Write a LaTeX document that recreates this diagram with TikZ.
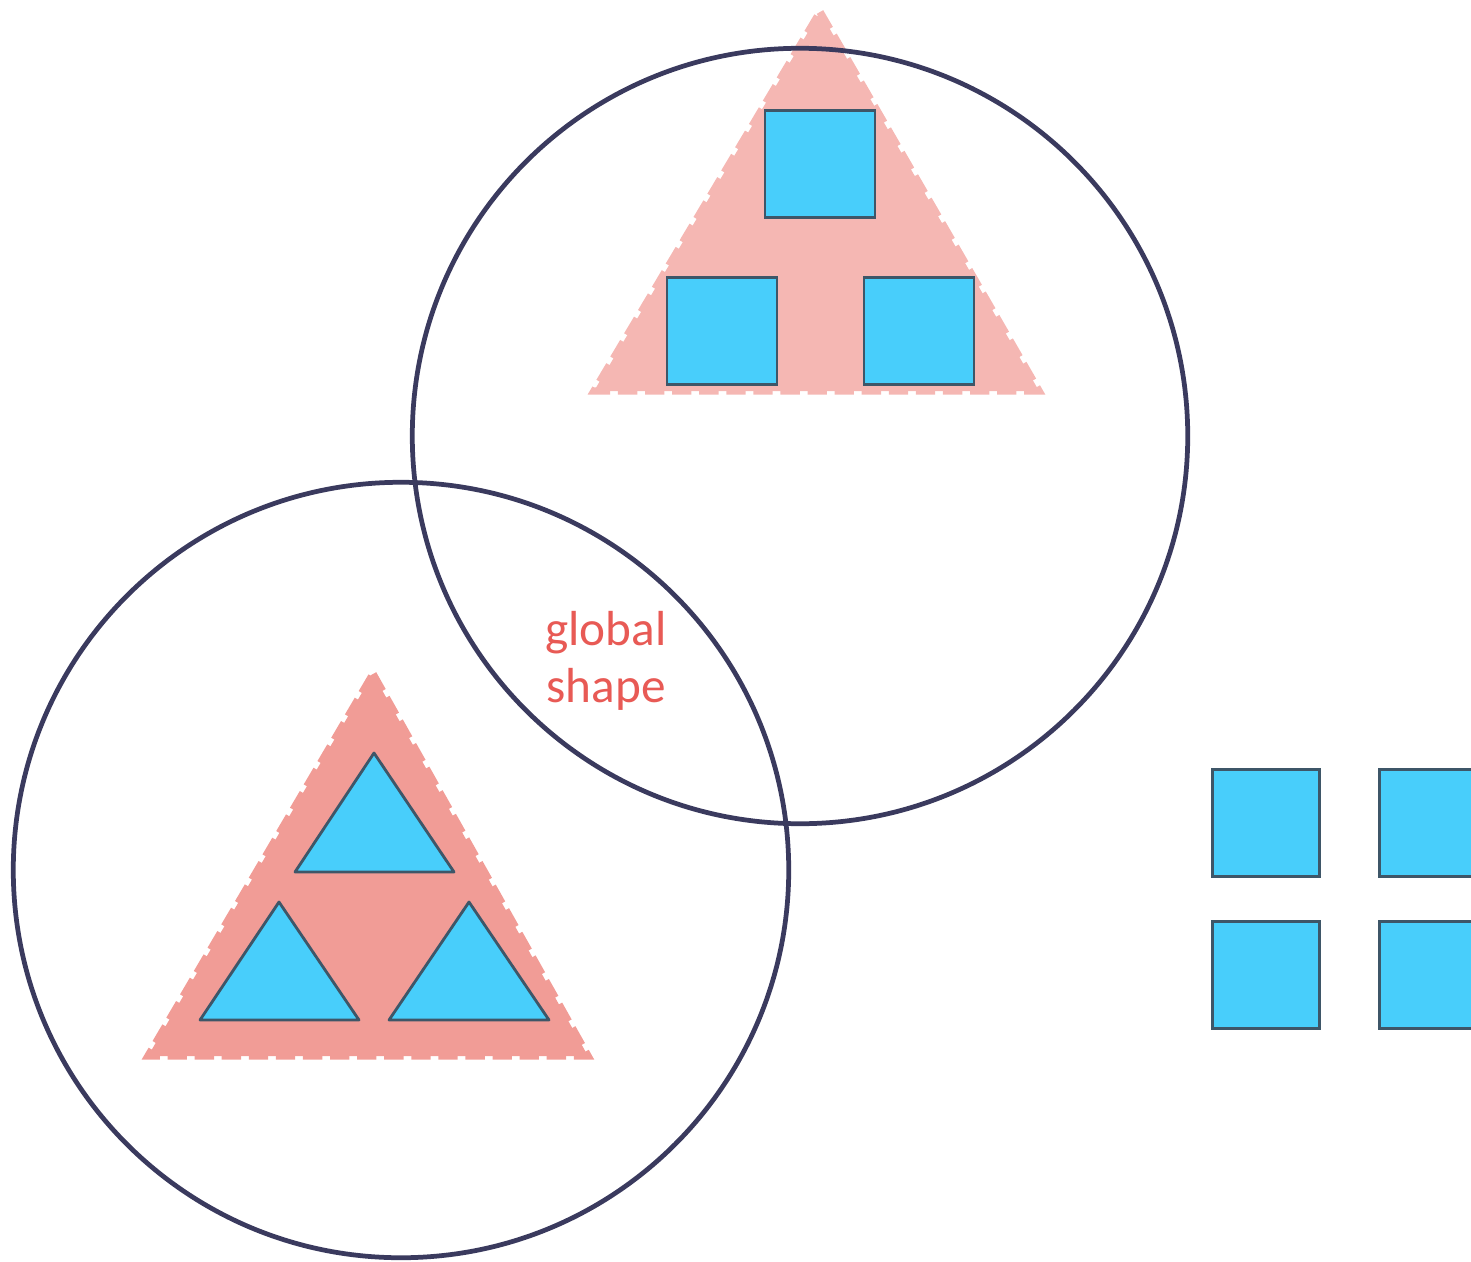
\documentclass[tikz,border=0pt]{standalone}
\usepackage{fontspec}
\setsansfont{Carlito}
\usepackage{tikz}
\usetikzlibrary{positioning}
\definecolor{ringnavy}{HTML}{3A3A5E}
\definecolor{tilecyan}{HTML}{48CEFB}
\definecolor{tileedge}{HTML}{3E5668}
\definecolor{palerose}{HTML}{F5B7B3}
\definecolor{deeprose}{HTML}{F19C96}
\definecolor{labelred}{HTML}{E85A55}
\tikzstyle{ring} = [circle, draw=ringnavy, line width=1.35pt, minimum size=7.75cm, inner sep=0pt]
\tikzstyle{tile} = [rectangle, draw=tileedge, fill=tilecyan, line width=0.8pt, minimum width=1.07cm, minimum height=1.07cm, inner sep=0pt]
\tikzstyle{wedge} = [draw=tileedge, fill=tilecyan, line width=0.8pt, line join=round]
\tikzstyle{blob} = [line width=2.1pt, dash pattern=on 5.5pt off 2.2pt]

\begin{document}
\begin{tikzpicture}[x=0.01cm, y=-0.01cm]
    \clip (0,0) rectangle (1471,1261);
    % Big triangles
    \filldraw[fill=palerose, draw=palerose, blob] (820,12) -- (1039,391) -- (594,391) -- cycle;
    \filldraw[fill=deeprose, draw=deeprose, blob] (373,674) -- (588,1056) -- (148,1056) -- cycle;

    % Squares inside the top triangle
    \node[tile, minimum width=1.1cm] (sqtop) at (820,164) {};
    \node[tile, minimum width=1.1cm] (sqleft) at (722,331) {};
    \node[tile, minimum width=1.1cm] (sqright) at (919,331) {};

    % Triangles inside the bottom triangle
    \draw[wedge] (374,753) -- (454,872) -- (295,872) -- cycle;
    \draw[wedge] (279,902) -- (359,1020) -- (200,1020) -- cycle;
    \draw[wedge] (469,902) -- (549,1020) -- (389,1020) -- cycle;

    % Circles
    \node[ring] (upper) at (800,436) {};
    \node[ring] (lower) at (401,870) {};

    % Label
    \node[text=labelred, font=\sffamily\fontsize{14}{16.3}\selectfont, align=center] (global) at (606,661) {global\\shape};

    % Loose squares on the right
    \node[tile] (sqa) at (1266,823) {};
    \node[tile, right=0.57cm of sqa] (sqb) {};
    \node[tile, below=0.42cm of sqa] (sqc) {};
    \node[tile, right=0.57cm of sqc] (sqd) {};
\end{tikzpicture}
\end{document}
